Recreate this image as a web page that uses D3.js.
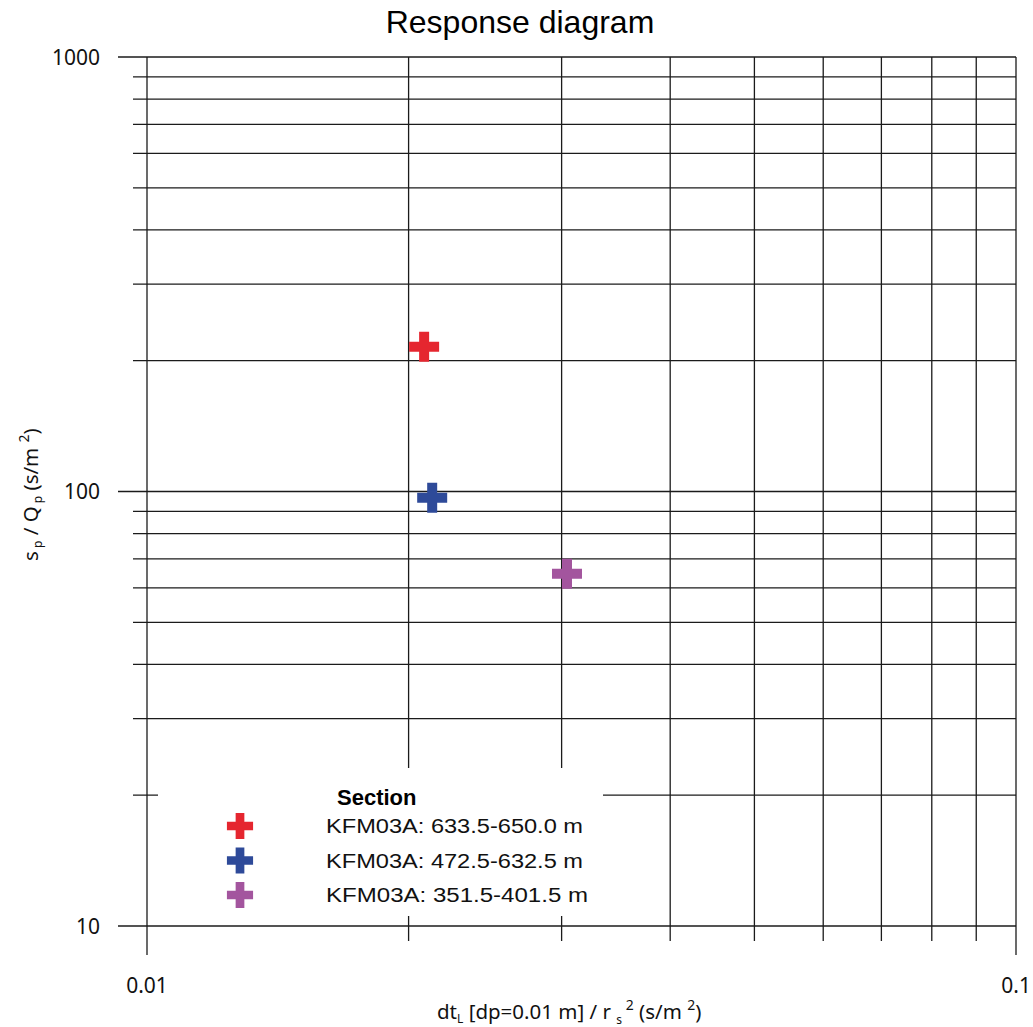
<!DOCTYPE html>
<html>
<head>
<meta charset="utf-8">
<script src="https://cdnjs.cloudflare.com/ajax/libs/d3/7.9.0/d3.min.js"></script>
<style>
  html, body { margin: 0; padding: 0; background: #fff; }
  svg { display: block; }
</style>
</head>
<body>
<svg id="chart" width="1033" height="1027"></svg>
<script>
const sections = ['KFM03A: 633.5-650.0 m', 'KFM03A: 472.5-632.5 m', 'KFM03A: 351.5-401.5 m'];
const xValues = [0.02084, 0.02129, 0.03043];
const yValues = [215.4, 96.7, 64.7];
const colors = ['#E5262F', '#2E4A99', '#A3559E'];
const xTickLabels = [0.01, 0.1];
const yTickLabels = [10, 100, 1000];

const svg = d3.select('#chart');

const x = d3.scaleLog().domain([0.01, 0.1]).range([147, 1016]);
const y = d3.scaleLog().domain([10, 1000]).range([926, 57]);

const LINE = '#1b1b1b';
const isMajor = v => Math.abs(Math.log10(v) - Math.round(Math.log10(v))) < 1e-6;

// grid
const grid = svg.append('g').attr('stroke', LINE).attr('stroke-width', 1.3);
grid.selectAll('line.h').data(y.ticks()).join('line')
  .attr('class', 'h')
  .attr('x1', d => isMajor(d) ? 118 : 133).attr('x2', x(0.1))
  .attr('y1', d => y(d)).attr('y2', d => y(d));
grid.selectAll('line.v').data(x.ticks()).join('line')
  .attr('class', 'v')
  .attr('x1', d => x(d)).attr('x2', d => x(d))
  .attr('y1', y(1000)).attr('y2', d => isMajor(d) ? 955 : 941);

// tick labels
const tickFont = '"Noto Sans", "Open Sans", sans-serif';
svg.append('g').selectAll('text').data(yTickLabels).join('text')
  .attr('x', 100).attr('y', d => y(d)).attr('dy', '0.36em')
  .attr('text-anchor', 'end').attr('font-size', 21).attr('font-family', tickFont)
  .attr('fill', '#111').text(d => d);
svg.append('g').selectAll('text').data(xTickLabels).join('text')
  .attr('x', d => d === 0.1 ? 1031 : x(d)).attr('y', 993)
  .attr('text-anchor', d => d === 0.1 ? 'end' : 'middle')
  .attr('font-size', 21).attr('font-family', tickFont)
  .attr('fill', '#111').text(d => d);

// title
svg.append('text').attr('x', 520).attr('y', 33).attr('text-anchor', 'middle')
  .attr('font-family', '"Liberation Sans", Arial, sans-serif').attr('font-size', 32)
  .attr('fill', '#000').text('Response diagram');

// x axis label
const xl = svg.append('text').attr('x', 437).attr('y', 1019)
  .attr('font-family', tickFont).attr('font-size', 20.5).attr('fill', '#111');
xl.append('tspan').text('dt');
xl.append('tspan').attr('font-size', 12).attr('dy', 4).text('L');
xl.append('tspan').attr('dy', -4).text(' [dp=0.01 m] / r ');
xl.append('tspan').attr('font-size', 12).attr('dy', 5).text(' s');
xl.append('tspan').attr('font-size', 14).attr('dy', -14).text(' 2');
xl.append('tspan').attr('dy', 9).text(' (s/m ');
xl.append('tspan').attr('font-size', 14).attr('dy', -9).text('2');
xl.append('tspan').attr('dy', 9).text(')');

// y axis label
const yl = svg.append('text').attr('transform', 'translate(38,561) rotate(-90)')
  .attr('font-family', tickFont).attr('font-size', 20.5).attr('fill', '#111');
yl.append('tspan').text('s');
yl.append('tspan').attr('font-size', 12).attr('dy', 4).text(' p');
yl.append('tspan').attr('dy', -4).text(' / Q');
yl.append('tspan').attr('font-size', 12).attr('dy', 4).text(' p');
yl.append('tspan').attr('dy', -4).text(' (s/m ');
yl.append('tspan').attr('font-size', 14).attr('dy', -9).text('2');
yl.append('tspan').attr('dy', 9).text(')');

// legend box
const lg = svg.append('g');
lg.append('rect').attr('x', 158).attr('y', 768).attr('width', 445).attr('height', 148).attr('fill', '#fff');
lg.append('text').attr('x', 337).attr('y', 805)
  .attr('font-family', '"Liberation Sans", Arial, sans-serif').attr('font-weight', 'bold')
  .attr('font-size', 22).attr('fill', '#000').text('Section');
const legRow = d3.scaleLinear().domain([0, 2]).range([826, 895]);
sections.forEach((s, i) => {
  lg.append('path').attr('d', d3.symbol(d3.symbolCross, 380)())
    .attr('transform', `translate(240,${legRow(i)})`).attr('fill', colors[i]);
  lg.append('text').attr('x', 326).attr('y', legRow(i)).attr('dy', '0.36em')
    .attr('font-family', '"Liberation Sans", Arial, sans-serif').attr('font-size', 20)
    .attr('textLength', i === 2 ? 262 : 257).attr('lengthAdjust', 'spacingAndGlyphs')
    .attr('fill', '#111').text(s);
});

// points
svg.append('g').selectAll('path').data(xValues).join('path')
  .attr('d', d3.symbol(d3.symbolCross, 500)())
  .attr('transform', (d, i) => `translate(${x(d)},${y(yValues[i])})`)
  .attr('fill', (d, i) => colors[i]);
</script>
</body>
</html>
